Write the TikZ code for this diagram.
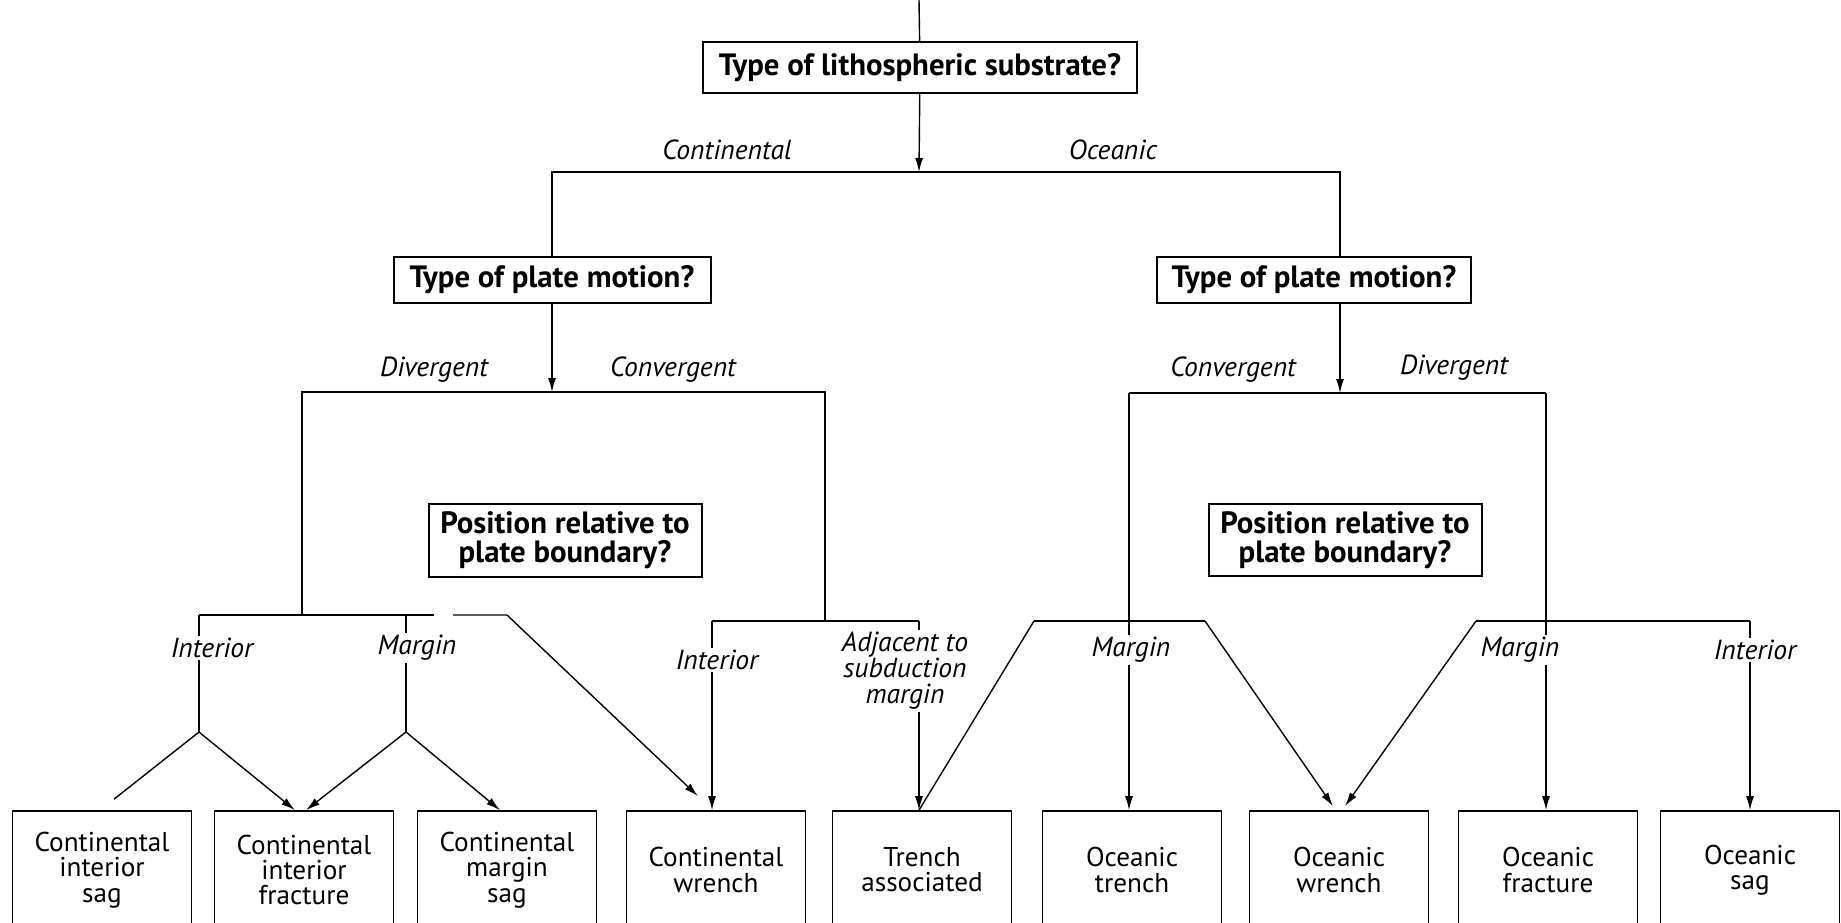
\documentclass[tikz,border=0pt]{standalone}
\usepackage{fontspec}
\setmainfont{PT Sans}
\usetikzlibrary{arrows.meta}

\tikzset{
  qbox/.style={draw, line width=1pt, font=\bfseries\fontsize{15.4}{14.2}\selectfont, align=center, inner sep=2pt},
  leaf/.style={draw, line width=0.8pt, minimum width=89.5pt, minimum height=59pt, align=center, font=\fontsize{13.6}{12.6}\selectfont},
  lab/.style={fill=white, inner sep=1pt, font=\itshape\fontsize{13.8}{13}\selectfont, align=center},
  arr/.style={-{Latex[length=7pt,width=4pt]}},
}

\begin{document}
\begin{tikzpicture}[x=0.5pt, y=-0.5pt, line width=0.7pt]
  \useasboundingbox (0,0) rectangle (1841,922);

  % questions
  \node[qbox, minimum width=217pt, minimum height=25.5pt] (sub) at (920,67.5) {Type of lithospheric substrate?};
  \node[qbox, minimum width=158.5pt, minimum height=23pt] (motC) at (552,280) {Type of plate motion?};
  \node[qbox, minimum width=157pt, minimum height=23pt] (motO) at (1314,280) {Type of plate motion?};
  \node[qbox, minimum width=136.5pt, minimum height=36.5pt] (posC) at (565,540) {Position relative to\\plate boundary?};
  \node[qbox, minimum width=136.5pt, minimum height=36pt] (posO) at (1345,540) {Position relative to\\plate boundary?};

  % settings
  \node[leaf] (sagCI) at (102,870) {Continental\\interior\\sag};
  \node[leaf] (fracCI) at (304,870) {Continental\\interior\\fracture};
  \node[leaf] (sagCM) at (507,870) {Continental\\margin\\sag};
  \node[leaf] (wrC) at (716,870) {Continental\\wrench};
  \node[leaf] (trA) at (922,870) {Trench\\associated};
  \node[leaf] (trO) at (1132,870) {Oceanic\\trench};
  \node[leaf] (wrO) at (1339,870) {Oceanic\\wrench};
  \node[leaf] (fracO) at (1548,870) {Oceanic\\fracture};
  \node[leaf] (sagO) at (1750,870) {Oceanic\\sag};

  % junctions
  \coordinate (top) at (919,0);
  \coordinate (j1) at (919,172);
  \coordinate (j1C) at (552,172);
  \coordinate (j1O) at (1340,172);
  \coordinate (j2C) at (552,392);
  \coordinate (dvC) at (302,392);
  \coordinate (cvC) at (825,392);
  \coordinate (j2O) at (1340,393);
  \coordinate (cvO) at (1129,393);
  \coordinate (dvO) at (1546,393);
  \coordinate (dvC1) at (302,615);
  \coordinate (inC) at (199,615);
  \coordinate (mgC) at (406,615);
  \coordinate (gapL) at (434,615);
  \coordinate (gapR) at (453,615);
  \coordinate (trC) at (507,615);
  \coordinate (inCf) at (199,732);
  \coordinate (mgCf) at (406,732);
  \coordinate (cvC1) at (825,621);
  \coordinate (inC2) at (712,621);
  \coordinate (adC) at (919,621);
  \coordinate (cvOL) at (1034,621);
  \coordinate (cvOR) at (1205,621);
  \coordinate (dvOL) at (1476,621);
  \coordinate (dvOI) at (1750,621);

  % substrate
  \draw (top) -- (sub);
  \draw[arr] (sub) -- (j1);
  \draw (motC) -- (j1C) -- (j1O) -- (j1O |- motO.north);

  % plate motion
  \draw[arr] (motC) -- (j2C);
  \draw (dvC1) -- (dvC) -- (cvC) -- (cvC1);
  \draw[arr] (j1O |- motO.south) -- (j2O);
  \draw (cvO) -- (dvO);
  \draw[arr] (cvO) -- (cvO |- trO.north);
  \draw[arr] (dvO) -- (dvO |- fracO.north);

  % continental divergent
  \draw (inC) -- (gapL);
  \draw[arr] (gapR) -- (trC) -- ([xshift=-9pt,yshift=7pt]wrC.north);
  \draw (inC) -- (inCf);
  \draw (mgC) -- (mgCf);
  \draw (inCf) -- ([xshift=6pt,yshift=5.5pt]sagCI.north);
  \draw[arr] (inCf) -- ([xshift=-4.5pt]fracCI.north);
  \draw[arr] (mgCf) -- ([xshift=1pt]fracCI.north);
  \draw[arr] (mgCf) -- ([xshift=-3.5pt]sagCM.north);

  % continental convergent
  \draw (inC2) -- (adC);
  \draw[arr] (inC2) -- (inC2 |- wrC.north);
  \draw[arr] (adC) -- (adC |- trA.north);

  % oceanic
  \draw (cvOL) -- (cvOR);
  \draw (cvOL) -- (adC |- trA.north);
  \draw[arr] (cvOR) -- ([xshift=-3pt,yshift=2pt]wrO.north);
  \draw (dvOL) -- (dvOI);
  \draw[arr] (dvOL) -- ([xshift=3pt,yshift=2pt]wrO.north);
  \draw[arr] (dvOI) -- (dvOI |- sagO.north);

  % labels
  \node[lab] (lCont) at (727,150) {Continental};
  \node[lab] (lOcean) at (1113,150) {Oceanic};
  \node[lab] (lDivC) at (434,370) {Divergent};
  \node[lab] (lConC) at (673,370) {Convergent};
  \node[lab] (lConO) at (1233,370) {Convergent};
  \node[lab] (lDivO) at (1454,368) {Divergent};
  \node[lab] (lInC) at (212,648) {Interior};
  \node[lab] (lMgC) at (417,648) {Margin};
  \node[lab] (lInC2) at (717,660) {Interior};
  \node[lab] (lAdj) at (905,671) {Adjacent to\\subduction\\margin};
  \node[lab] (lMgO) at (1131,650) {Margin};
  \node[lab] (lMgO2) at (1520,650) {Margin};
  \node[lab] (lInO) at (1755,650) {Interior};
\end{tikzpicture}
\end{document}
